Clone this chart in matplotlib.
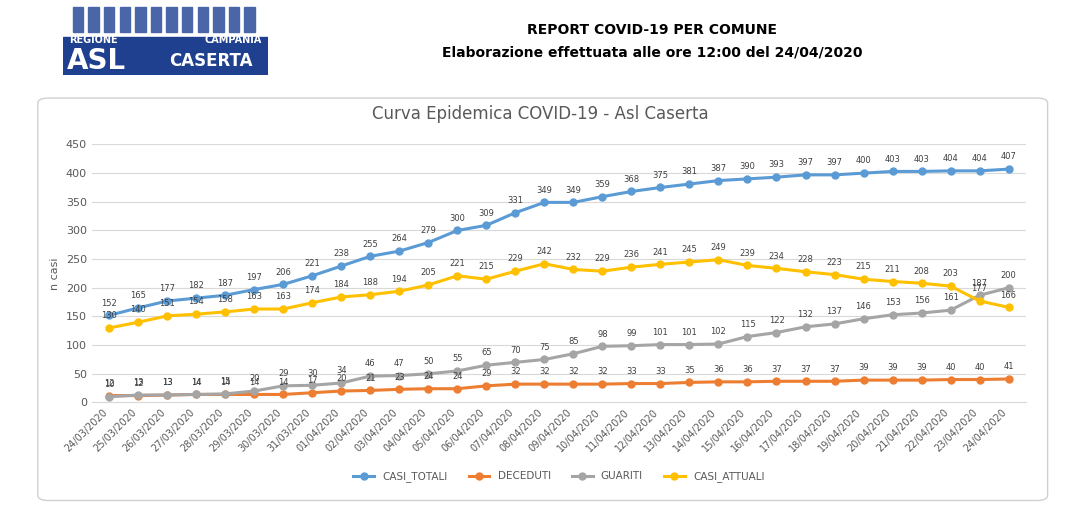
import matplotlib.pyplot as plt
from matplotlib.patches import FancyBboxPatch, Rectangle
from datetime import date, timedelta

dates = [(date(2020, 3, 24) + timedelta(days=i)).strftime('%d/%m/%Y') for i in range(32)]
casi_totali = [152, 165, 177, 182, 187, 197, 206, 221, 238, 255, 264, 279, 300, 309, 331, 349,
               349, 359, 368, 375, 381, 387, 390, 393, 397, 397, 400, 403, 403, 404, 404, 407]
deceduti = [12, 12, 13, 14, 14, 14, 14, 17, 20, 21, 23, 24, 24, 29, 32, 32,
            32, 32, 33, 33, 35, 36, 36, 37, 37, 37, 39, 39, 39, 40, 40, 41]
guariti = [10, 13, 13, 14, 15, 20, 29, 30, 34, 46, 47, 50, 55, 65, 70, 75,
           85, 98, 99, 101, 101, 102, 115, 122, 132, 137, 146, 153, 156, 161, 187, 200]
casi_attuali = [130, 140, 151, 154, 158, 163, 163, 174, 184, 188, 194, 205, 221, 215, 229, 242,
                232, 229, 236, 241, 245, 249, 239, 234, 228, 223, 215, 211, 208, 203, 177, 166]

series = [('CASI_TOTALI', casi_totali, '#5b9bd5'),
          ('DECEDUTI', deceduti, '#ed7d31'),
          ('GUARITI', guariti, '#a5a5a5'),
          ('CASI_ATTUALI', casi_attuali, '#ffc000')]

fig = plt.figure(figsize=(10.8, 5.16), dpi=100)
fig.patch.set_facecolor('white')

# header logo
logo = fig.add_axes([0.058, 0.855, 0.19, 0.135])
logo.set_xlim(0, 1); logo.set_ylim(0, 1); logo.axis('off')
logo.add_patch(Rectangle((0, 0), 1, 0.55, color='#1f3f8f'))
for k in range(12):
    logo.add_patch(Rectangle((0.05 + k * 0.076, 0.62), 0.05, 0.35, color='#4a66a8'))
logo.text(0.03, 0.5, 'REGIONE', color='white', fontsize=7, fontweight='bold', va='center')
logo.text(0.97, 0.5, 'CAMPANIA', color='white', fontsize=7, fontweight='bold', va='center', ha='right')
logo.text(0.02, 0.2, 'ASL', color='white', fontsize=20, fontweight='bold', va='center')
logo.text(0.52, 0.2, 'CASERTA', color='white', fontsize=12, fontweight='bold', va='center')

fig.text(0.604, 0.935, 'REPORT COVID-19 PER COMUNE', ha='center', fontsize=10, fontweight='bold')
fig.text(0.604, 0.89, 'Elaborazione effettuata alle ore 12:00 del 24/04/2020', ha='center',
         fontsize=10, fontweight='bold')

frame = FancyBboxPatch((0.035, 0.03), 0.935, 0.78, boxstyle='round,pad=0,rounding_size=0.01',
                       transform=fig.transFigure, fill=False, edgecolor='#d0d0d0', lw=1)
fig.patches.append(frame)
fig.text(0.5, 0.77, 'Curva Epidemica COVID-19 - Asl Caserta', ha='center', fontsize=12, color='#595959')

ax = fig.add_axes([0.085, 0.22, 0.865, 0.5])
x = range(len(dates))
for name, vals, col in series:
    ax.plot(x, vals, color=col, lw=2.2, marker='o', ms=5, label=name)
    for i, v in enumerate(vals):
        ax.annotate(str(v), (i, v), xytext=(0, 7), textcoords='offset points',
                    ha='center', fontsize=6, color='#404040')
ax.set_ylim(0, 450)
ax.set_yticks(range(0, 451, 50))
ax.set_xlim(-0.6, len(dates) - 0.4)
ax.set_xticks(list(x))
ax.set_xticklabels(dates, rotation=45, ha='right', fontsize=7, color='#595959')
ax.tick_params(axis='y', labelsize=8, colors='#595959', length=0)
ax.tick_params(axis='x', length=0)
ax.grid(axis='y', color='#d9d9d9', lw=0.8)
ax.set_axisbelow(True)
for s in ['top', 'right', 'left']:
    ax.spines[s].set_visible(False)
ax.spines['bottom'].set_color('#d9d9d9')
ax.set_ylabel('n casi', fontsize=8, color='#595959')
ax.legend(loc='upper center', bbox_to_anchor=(0.5, -0.23), ncol=4, frameon=False, fontsize=7.5,
          labelcolor='#595959')

fig.savefig('out.png', dpi=100)
